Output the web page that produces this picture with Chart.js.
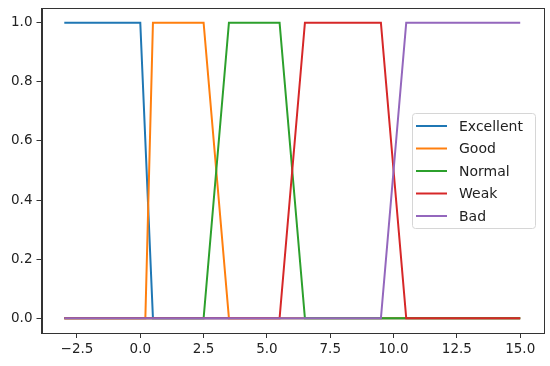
<!DOCTYPE html>
<html>
<head>
<meta charset="utf-8">
<script src="https://cdn.jsdelivr.net/npm/chart.js@4.4.1/dist/chart.umd.min.js"></script>
<style>
  html, body { margin: 0; padding: 0; background: #fff; }
  #wrap { width: 550px; height: 366px; position: relative; }
</style>
</head>
<body>
<div id="wrap"><canvas id="c"></canvas></div>
<script>
// ---- data ----
const seriesNames = ['Excellent', 'Good', 'Normal', 'Weak', 'Bad'];
const xExcellent = [-3, 0, 0.5, 15];
const yExcellent = [1, 1, 0, 0];
const xGood = [-3, 0.2, 0.5, 2.5, 3.5, 15];
const yGood = [0, 0, 1, 1, 0, 0];
const xNormal = [-3, 2.5, 3.5, 5.5, 6.5, 15];
const yNormal = [0, 0, 1, 1, 0, 0];
const xWeak = [-3, 5.5, 6.5, 9.5, 10.5, 15];
const yWeak = [0, 0, 1, 1, 0, 0];
const xBad = [-3, 9.5, 10.5, 15];
const yBad = [0, 0, 1, 1];
const xTicks = [-2.5, 0, 2.5, 5, 7.5, 10, 12.5, 15];
const yTicks = [0, 0.2, 0.4, 0.6, 0.8, 1.0];

const colors = ['#1f77b4', '#ff7f0e', '#2ca02c', '#d62728', '#9467bd'];
const xs = [xExcellent, xGood, xNormal, xWeak, xBad];
const ys = [yExcellent, yGood, yNormal, yWeak, yBad];

const datasets = seriesNames.map((name, i) => ({
  label: name,
  data: xs[i].map((x, j) => ({ x: x, y: ys[i][j] })),
  borderColor: colors[i],
  backgroundColor: colors[i],
  borderWidth: 2,
  pointRadius: 0,
  tension: 0,
  fill: false,
  order: -i
}));

const fmt = v => {
  const s = Math.abs(v).toFixed(1);
  return v < 0 ? '\u2212' + s : s;
};

const framePlugin = {
  id: 'frame',
  afterDatasetsDraw(chart) {
    const { ctx, chartArea: a } = chart;
    ctx.save();
    ctx.strokeStyle = '#333';
    ctx.lineWidth = 1;
    ctx.strokeRect(Math.round(a.left) + 0.5, Math.round(a.top) + 0.5,
                   Math.round(a.right - a.left), Math.round(a.bottom - a.top));
    ctx.restore();
  }
};

const legendPlugin = {
  id: 'boxLegend',
  afterDatasetsDraw(chart) {
    const ctx = chart.ctx;
    const bx = 412.5, by = 113.5, bw = 123, bh = 115, r = 3;
    ctx.save();
    ctx.beginPath();
    ctx.moveTo(bx + r, by);
    ctx.lineTo(bx + bw - r, by);
    ctx.quadraticCurveTo(bx + bw, by, bx + bw, by + r);
    ctx.lineTo(bx + bw, by + bh - r);
    ctx.quadraticCurveTo(bx + bw, by + bh, bx + bw - r, by + bh);
    ctx.lineTo(bx + r, by + bh);
    ctx.quadraticCurveTo(bx, by + bh, bx, by + bh - r);
    ctx.lineTo(bx, by + r);
    ctx.quadraticCurveTo(bx, by, bx + r, by);
    ctx.closePath();
    ctx.fillStyle = 'rgba(255,255,255,0.85)';
    ctx.fill();
    ctx.strokeStyle = '#d6d6d6';
    ctx.lineWidth = 1;
    ctx.stroke();
    ctx.font = '14px "DejaVu Sans"';
    ctx.textBaseline = 'middle';
    chart.data.datasets.forEach((ds, i) => {
      const cy = 126 + i * 22.5;
      ctx.strokeStyle = ds.borderColor;
      ctx.lineWidth = 2;
      ctx.beginPath();
      ctx.moveTo(416, cy);
      ctx.lineTo(447, cy);
      ctx.stroke();
      ctx.fillStyle = '#222';
      ctx.fillText(ds.label, 459, cy + 1);
    });
    ctx.restore();
  }
};

new Chart(document.getElementById('c'), {
  type: 'line',
  data: { datasets: datasets },
  options: {
    responsive: true,
    maintainAspectRatio: false,
    animation: false,
    events: [],
    layout: { padding: { top: 8, right: 7, left: 0, bottom: 0 } },
    plugins: { legend: { display: false }, tooltip: { enabled: false } },
    scales: {
      x: {
        type: 'linear',
        min: -3.9,
        max: 15.9,
        afterBuildTicks: s => { s.ticks = xTicks.map(v => ({ value: v })); },
        afterFit: s => { s.height = 33; s.paddingLeft = 0; s.paddingRight = 0; },
        grid: { drawOnChartArea: false, drawTicks: true, tickLength: 5, color: '#333' },
        border: { display: true, color: '#333' },
        ticks: {
          color: '#222',
          font: { family: 'DejaVu Sans', size: 13.5 },
          padding: 3,
          maxRotation: 0,
          autoSkip: false,
          callback: v => fmt(v)
        }
      },
      y: {
        type: 'linear',
        min: -0.05,
        max: 1.05,
        afterBuildTicks: s => { s.ticks = yTicks.map(v => ({ value: v })); },
        afterFit: s => { s.width = 41.5; s.paddingTop = 0; s.paddingBottom = 0; },
        grid: { drawOnChartArea: false, drawTicks: true, tickLength: 5, color: '#333' },
        border: { display: true, color: '#333' },
        ticks: {
          color: '#222',
          font: { family: 'DejaVu Sans', size: 13.5 },
          padding: 4,
          autoSkip: false,
          callback: v => fmt(v)
        }
      }
    }
  },
  plugins: [framePlugin, legendPlugin]
});
</script>
</body>
</html>
